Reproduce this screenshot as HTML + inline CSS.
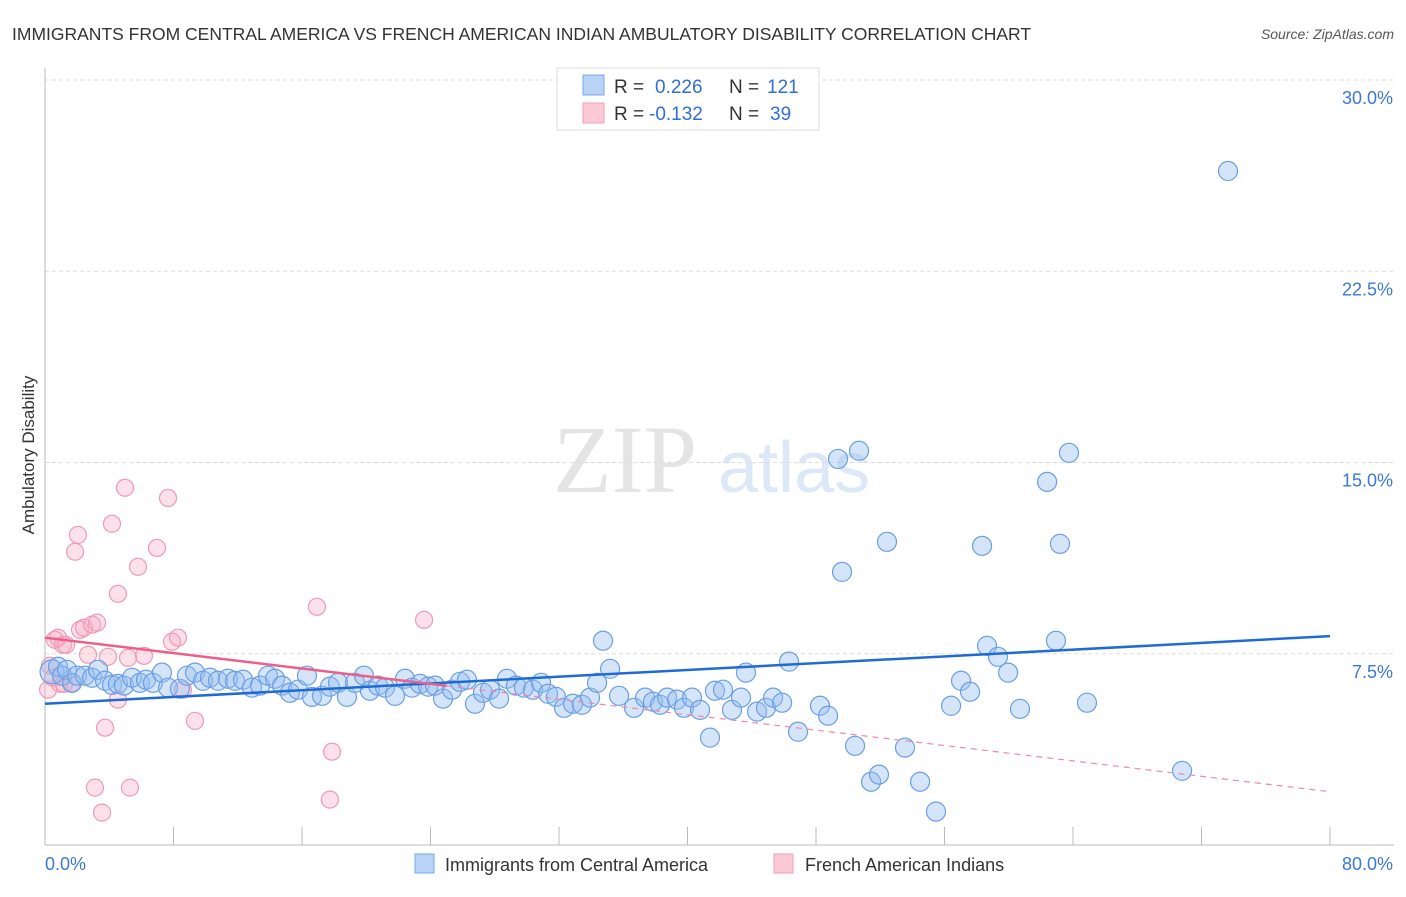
<!DOCTYPE html>
<html><head><meta charset="utf-8"><style>
body{margin:0;background:#fff;font-family:"Liberation Sans",sans-serif;}
svg text{font-family:"Liberation Sans",sans-serif;}
</style></head><body>
<svg id="chart" width="1406" height="892" xmlns="http://www.w3.org/2000/svg">
<text x="12" y="40" font-size="17.5" fill="#333">IMMIGRANTS FROM CENTRAL AMERICA VS FRENCH AMERICAN INDIAN AMBULATORY DISABILITY CORRELATION CHART</text>
<text x="1394" y="39" font-size="14" fill="#555" font-style="italic" text-anchor="end">Source: ZipAtlas.com</text>
<text transform="translate(34,455) rotate(-90)" font-size="17" fill="#333" text-anchor="middle">Ambulatory Disability</text>
<g>
<text x="553" y="492" font-size="96" fill="#e4e4e4" font-family="Liberation Serif, serif" style="font-family:'Liberation Serif',serif">ZIP</text>
<text x="718" y="492" font-size="72" fill="#dce8f7">atlas</text>
</g>
<g id="grid"></g>
<g id="axes"></g>
<g id="pts"></g>
<g id="lines"></g>
<g>
<rect x="557" y="68" width="262" height="62" fill="#fff" stroke="#ddd"/>
<rect x="583" y="75" width="21" height="20" fill="#b8d3f5" stroke="#7aa7e6"/>
<text x="614" y="93" font-size="19" fill="#333">R = </text><text x="655" y="93" font-size="19" fill="#2f6fd6">0.226</text>
<text x="729" y="93" font-size="19" fill="#333">N = </text><text x="767" y="93" font-size="19" fill="#2f6fd6">121</text>
<rect x="583" y="103" width="21" height="20" fill="#fcc9d7" stroke="#f2a0b8"/>
<text x="614" y="120" font-size="19" fill="#333">R = </text><text x="649" y="120" font-size="19" fill="#2f6fd6">-0.132</text>
<text x="729" y="120" font-size="19" fill="#333">N = </text><text x="770" y="120" font-size="19" fill="#2f6fd6">39</text>
</g>
<g>
<rect x="415" y="854" width="19" height="19" fill="#b8d3f5" stroke="#7aa7e6"/>
<text x="445" y="871" font-size="18" fill="#333">Immigrants from Central America</text>
<rect x="774" y="854" width="19" height="19" fill="#fcc9d7" stroke="#f2a0b8"/>
<text x="805" y="871" font-size="18" fill="#333">French American Indians</text>
</g>
</svg>
<script>
const yTicks=[7.5,15,22.5,30];
const yTickLabels=["7.5%","15.0%","22.5%","30.0%"];
const xTickLabels=["0.0%","80.0%"];
const blueX=[0.44,0.81,1.06,1.37,1.68,1.99,2.49,2.93,3.30,3.74,4.17,4.54,4.92,5.42,5.91,6.29,6.72,7.28,7.66,8.40,8.84,9.34,9.84,10.27,10.77,11.39,11.83,12.33,12.89,13.39,13.88,14.32,14.76,15.25,15.75,16.31,16.62,17.25,17.74,18.24,18.80,19.30,19.86,20.23,20.73,21.17,21.79,22.41,22.85,23.35,23.85,24.28,24.78,25.34,25.84,26.27,26.77,27.27,27.71,28.27,28.76,29.32,29.82,30.38,30.88,31.32,31.81,32.31,32.87,33.43,33.93,34.37,34.74,35.18,35.74,36.67,37.36,37.85,38.29,38.73,39.35,39.78,40.28,40.78,41.40,41.71,42.21,42.77,43.33,43.64,44.33,44.89,45.33,45.89,46.32,46.88,48.25,48.75,49.37,49.62,50.43,50.68,51.43,51.92,52.42,53.54,54.48,55.47,56.41,57.03,57.59,58.34,58.65,59.33,59.96,60.70,62.39,62.94,63.19,63.75,64.87,70.79,73.65];
const blueY=[6.79,6.99,6.64,6.87,6.36,6.64,6.64,6.56,6.87,6.44,6.28,6.32,6.25,6.56,6.36,6.48,6.36,6.76,6.17,6.13,6.64,6.76,6.44,6.56,6.44,6.52,6.44,6.48,6.17,6.25,6.64,6.52,6.25,5.97,6.09,6.64,5.81,5.85,6.21,6.36,5.81,6.36,6.64,6.05,6.25,6.17,5.85,6.52,6.17,6.32,6.21,6.25,5.74,6.09,6.40,6.48,5.54,5.97,6.09,5.74,6.52,6.25,6.17,6.09,6.36,5.93,5.81,5.38,5.54,5.50,5.78,6.36,8.01,6.91,5.85,5.38,5.78,5.62,5.50,5.78,5.70,5.38,5.78,5.30,4.21,6.05,6.09,5.30,5.78,6.76,5.23,5.38,5.78,5.58,7.19,4.44,5.46,5.07,15.14,10.71,3.89,15.46,2.48,2.76,11.89,3.82,2.48,1.31,5.46,6.44,6.01,11.73,7.81,7.38,6.76,5.34,14.24,8.01,11.81,15.38,5.58,2.91,26.43];
const pinkX=[0.31,0.62,0.81,0.93,1.12,1.31,1.68,1.87,2.05,2.18,2.43,2.68,2.93,3.24,3.74,4.17,4.54,3.11,3.55,4.98,5.29,5.17,5.79,6.16,6.97,7.66,7.91,8.28,8.59,9.34,16.93,17.87,17.74,23.60,3.92,4.54,1.18,0.19,0.50];
const pinkY=[7.03,8.05,8.13,6.32,7.85,7.85,6.36,11.50,12.16,8.44,8.52,7.46,8.64,8.72,4.60,12.60,9.85,2.25,1.27,14.01,2.25,7.34,10.91,7.42,11.65,13.61,7.97,8.13,6.09,4.87,9.34,3.66,1.78,8.83,7.38,5.70,6.32,6.09,6.56];
const blueTrend=[5.54,8.19];
const pinkTrend=[8.13,2.09];
const pinkSolidEnd=25;
const NS="http://www.w3.org/2000/svg";
const X0=45,X1=1330,Y0=845,Y30=80;
const sx=v=>X0+(X1-X0)*v/80;
const sy=v=>Y0-(Y0-Y30)*v/30;
function mk(t,a,p){const e=document.createElementNS(NS,t);for(const k in a)e.setAttribute(k,a[k]);p.appendChild(e);return e;}
const grid=document.getElementById('grid'),axes=document.getElementById('axes'),pts=document.getElementById('pts'),lines=document.getElementById('lines');
yTicks.forEach((v,i)=>{
const g=mk('line',{x1:X0,x2:1394,y1:sy(v),y2:sy(v),stroke:'#ddd','stroke-dasharray':'4,3'},grid);


const t=mk('text',{x:1393,y:sy(v)+24,'font-size':18,fill:'#3b78d8','text-anchor':'end'},axes);
t.textContent=yTickLabels[i];


});
const ya=mk('line',{x1:X0,x2:X0,y1:68,y2:Y0,stroke:'#bbb'},axes);


const xa=mk('line',{x1:X0,x2:1394,y1:Y0,y2:Y0,stroke:'#bbb'},axes);


for(let i=0;i<=10;i++){
const tk=mk('line',{x1:sx(i*8),x2:sx(i*8),y1:Y0-18,y2:Y0,stroke:'#bbb'},axes);


}
[[0,'start',X0],[80,'end',1393]].forEach((d,i)=>{
const t=mk('text',{x:d[2],y:870,'font-size':18,fill:'#3b78d8','text-anchor':d[1]},axes);
t.textContent=xTickLabels[i];


});
pinkX.forEach((x,i)=>{
const c=mk('circle',{cx:sx(x),cy:sy(pinkY[i]),r:8.5,fill:'rgba(248,170,195,0.35)',stroke:'#ee9ab4','stroke-width':1.2},pts);


});
blueX.forEach((x,i)=>{
const c=mk('circle',{cx:sx(x),cy:sy(blueY[i]),r:i==0?12:9.5,fill:'rgba(150,190,240,0.4)',stroke:'#6a9fe4','stroke-width':1.2},pts);


});
const bl=mk('line',{x1:sx(0),y1:sy(blueTrend[0]),x2:sx(80),y2:sy(blueTrend[1]),stroke:'#1f6bd6','stroke-width':2.5},lines);


const pv=x=>pinkTrend[0]+(pinkTrend[1]-pinkTrend[0])*x/80;
const ps=mk('line',{x1:sx(0),y1:sy(pv(0)),x2:sx(pinkSolidEnd),y2:sy(pv(pinkSolidEnd)),stroke:'#ec5f8a','stroke-width':2.5},lines);


const pd=mk('line',{x1:sx(pinkSolidEnd),y1:sy(pv(pinkSolidEnd)),x2:sx(80),y2:sy(pv(80)),stroke:'#ec8aa8','stroke-width':1.2,'stroke-dasharray':'6,5'},lines);


</script>
</body></html>
